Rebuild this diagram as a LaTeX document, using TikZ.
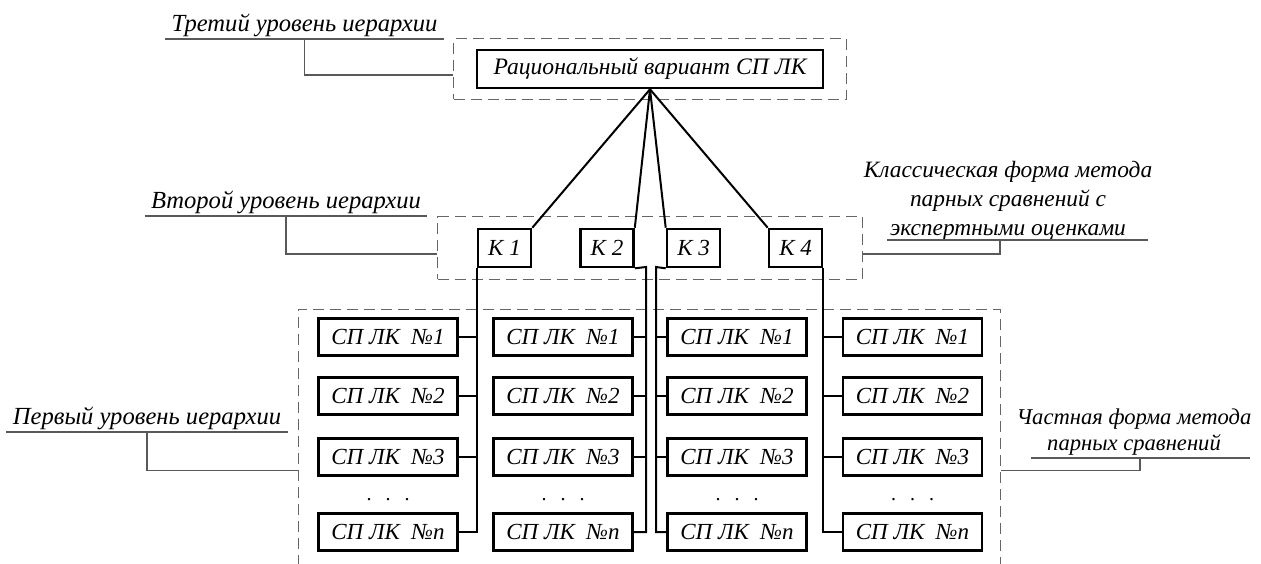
\documentclass[tikz,border=0pt]{standalone}
\usepackage{fontspec}
\setmainfont{Liberation Serif}
\usetikzlibrary{fit,positioning}

\begin{document}
\begin{tikzpicture}[
    x=0.5pt,y=-0.5pt,
    box/.style={draw,line width=1.3pt,inner sep=0pt,font=\fontsize{11.5}{13}\selectfont\itshape},
    kbox/.style={box,minimum width=26.5pt,minimum height=19pt},
    spbox/.style={box,minimum width=69.5pt,minimum height=18.5pt},
    frame/.style={draw=black!60,dash pattern=on 5.5pt off 3pt,line width=0.5pt,inner sep=0pt},
    lbl/.style={font=\fontsize{12.3}{14.5}\selectfont\itshape,align=center,inner xsep=3pt,inner ysep=1pt,anchor=south},
    callout/.style={draw=black!65,line width=0.6pt},
    link/.style={line width=1pt}
    ]
    \useasboundingbox (0,0) rectangle (1261,563);
    \node[box,minimum width=173pt,minimum height=19pt,font=\fontsize{11.8}{14}\selectfont\itshape](root) at (650,69){Рациональный вариант СП ЛК};
    \node[kbox](k1) at (504.5,248){К 1};
    \node[kbox](k2) at (607,248){К 2};
    \node[kbox](k3) at (693.5,248){К 3};
    \node[kbox](k4) at (795.5,248){К 4};
    \foreach \c/\x in {1/388,2/563,3/737,4/912.5}{
      \foreach \r/\y/\t in {1/337/1,2/396/2,3/457/3,4/532/n}
        \node[spbox](sp-\c-\r) at (\x,\y){СП ЛК\enspace №\t};
      \node[anchor=base](dots-\c) at (\x,500){.\hspace{7pt}.\hspace{7pt}.};
    }
    \node[frame,fit=(root),inner xsep=11pt,inner ysep=5pt](lvl3){};
    \node[frame,fit=(k1)(k4),inner xsep=19.5pt,inner ysep=5.5pt](lvl2){};
    \node[frame,fit={(298,309)(1000,580)}](lvl1){};
    \coordinate(b2) at (646,267);
    \coordinate(b3) at (656,267);
    \draw[link](root.south) -- (k1.north east);
    \draw[link](root.south) -- (k2.north east);
    \draw[link](root.south) -- (k3.north west);
    \draw[link](root.south) -- (k4.north west);
    \draw[link](k1.south west) |- (sp-1-4.east);
    \draw[link](k2.south east) -- (b2) |- (sp-2-4.east);
    \draw[link](k3.south west) -- (b3) |- (sp-3-4.west);
    \draw[link](k4.south east) |- (sp-4-4.west);
    \foreach \r in {1,2,3}{
      \draw[link](sp-1-\r.east) -- (sp-1-\r.east -| k1.south west);
      \draw[link](sp-2-\r.east) -- (sp-2-\r.east -| b2);
      \draw[link](sp-3-\r.west) -- (sp-3-\r.west -| b3);
      \draw[link](sp-4-\r.west) -- (sp-4-\r.west -| k4.south east);
    }
    \node[lbl](t3) at (304.5,39){Третий уровень иерархии};
    \node[lbl](t2) at (286,216){Второй уровень иерархии};
    \node[lbl](t1) at (147,432){Первый уровень иерархии};
    \node[lbl,inner ysep=-0.5pt,font=\fontsize{11.7}{14.5}\selectfont\itshape](tr2) at (1008,240){Классическая форма метода\\парных сравнений с\\экспертными оценками};
    \node[lbl,font=\fontsize{11.3}{13}\selectfont\itshape](tr1) at (1134,458){Частная форма метода\\парных сравнений};
    \draw[callout](t3.south west) -- (t3.south east);
    \draw[callout](t3.south) |- ([yshift=-3pt]lvl3.west);
    \draw[callout](t2.south west) -- (t2.south east);
    \draw[callout](t2.south) |- ([yshift=-3pt]lvl2.west);
    \draw[callout](t1.south west) -- (t1.south east);
    \draw[callout](t1.south) |- ([yshift=-13pt]lvl1.west);
    \draw[callout]([xshift=-60.5pt]tr2.south) -- ([xshift=70pt]tr2.south);
    \draw[callout]([xshift=-4pt]tr2.south) |- ([yshift=-3pt]lvl2.east);
    \draw[callout]([xshift=-51.5pt]tr1.south) -- ([xshift=58pt]tr1.south);
    \draw[callout]([xshift=3pt]tr1.south) |- ([yshift=-13pt]lvl1.east);
\end{tikzpicture}
\end{document}
